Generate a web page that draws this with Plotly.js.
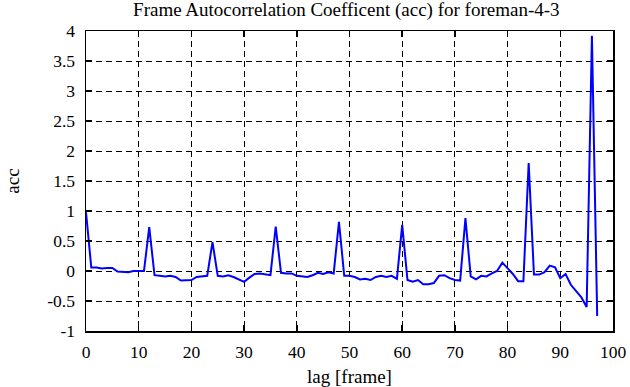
<!DOCTYPE html>
<html>
<head>
<meta charset="utf-8">
<script src="https://cdn.plot.ly/plotly-3.0.1.min.js"></script>
<style>html,body{margin:0;padding:0;background:#fff;}#chart{width:630px;height:387px;}</style>
</head>
<body>
<div id="chart"></div>
<script>
const chartTitle = "Frame Autocorrelation Coefficent (acc) for foreman-4-3";
const xLabel = "lag [frame]";
const yLabel = "acc";
const lags = [0,1,2,3,4,5,6,7,8,9,10,11,12,13,14,15,16,17,18,19,20,21,22,23,24,25,26,27,28,29,30,31,32,33,34,35,36,37,38,39,40,41,42,43,44,45,46,47,48,49,50,51,52,53,54,55,56,57,58,59,60,61,62,63,64,65,66,67,68,69,70,71,72,73,74,75,76,77,78,79,80,81,82,83,84,85,86,87,88,89,90,91,92,93,94,95,96,97];
const acc = [0.98,0.06,0.06,0.04,0.05,0.05,-0.01,-0.02,-0.02,0.0,0.0,0.0,0.73,-0.07,-0.08,-0.09,-0.08,-0.1,-0.16,-0.15,-0.15,-0.1,-0.09,-0.08,0.48,-0.08,-0.09,-0.07,-0.1,-0.14,-0.18,-0.11,-0.05,-0.04,-0.06,-0.07,0.74,-0.03,-0.04,-0.04,-0.08,-0.09,-0.1,-0.07,-0.03,-0.05,-0.02,-0.04,0.82,-0.08,-0.08,-0.1,-0.14,-0.13,-0.15,-0.1,-0.08,-0.1,-0.08,-0.13,0.77,-0.15,-0.18,-0.15,-0.22,-0.22,-0.2,-0.08,-0.07,-0.12,-0.15,-0.16,0.88,-0.09,-0.14,-0.08,-0.09,-0.04,0.0,0.14,0.04,-0.05,-0.17,-0.17,1.8,-0.06,-0.06,-0.02,0.09,0.06,-0.12,-0.05,-0.23,-0.34,-0.44,-0.6,3.92,-0.75];
const xTicks = [0,10,20,30,40,50,60,70,80,90,100];
const yTicks = [-1,-0.5,0,0.5,1,1.5,2,2.5,3,3.5,4];

const FAM = "Liberation Serif";
const axisCommon = {
  showline: true, linecolor: "#000", linewidth: 1.5, mirror: "ticks",
  ticks: "inside", ticklen: 6, tickwidth: 1.5, tickcolor: "#000",
  showgrid: true, gridcolor: "#000", gridwidth: 1, griddash: "6px,4px",
  zeroline: false, tickfont: {family: FAM, size: 17.5, color: "#000"}
};
Plotly.newPlot("chart", [{
  x: lags, y: acc, type: "scatter", mode: "lines",
  line: {color: "#0000ff", width: 2}
}], {
  width: 630, height: 387,
  font: {family: FAM, size: 17, color: "#000"},
  margin: {l: 85.5, r: 17, t: 31, b: 56},
  paper_bgcolor: "#fff", plot_bgcolor: "#fff",
  showlegend: false,
  title: {text: chartTitle, font: {family: FAM, size: 19, color: "#000"}, xref: "paper", x: 0.494, xanchor: "center", y: 0.975, yanchor: "middle"},
  xaxis: Object.assign({}, axisCommon, {range: [0, 100], tickvals: xTicks, ticktext: xTicks.map(String),
    ticklabelstandoff: 4,
    title: {text: xLabel, font: {family: FAM, size: 19, color: "#000"}, standoff: 9}}),
  yaxis: Object.assign({}, axisCommon, {range: [-1, 4], tickvals: yTicks, ticktext: yTicks.map(String),
    ticklabelstandoff: 6,
    title: {text: yLabel, font: {family: FAM, size: 19, color: "#000"}, standoff: 22}})
}, {staticPlot: true});
</script>
</body>
</html>
